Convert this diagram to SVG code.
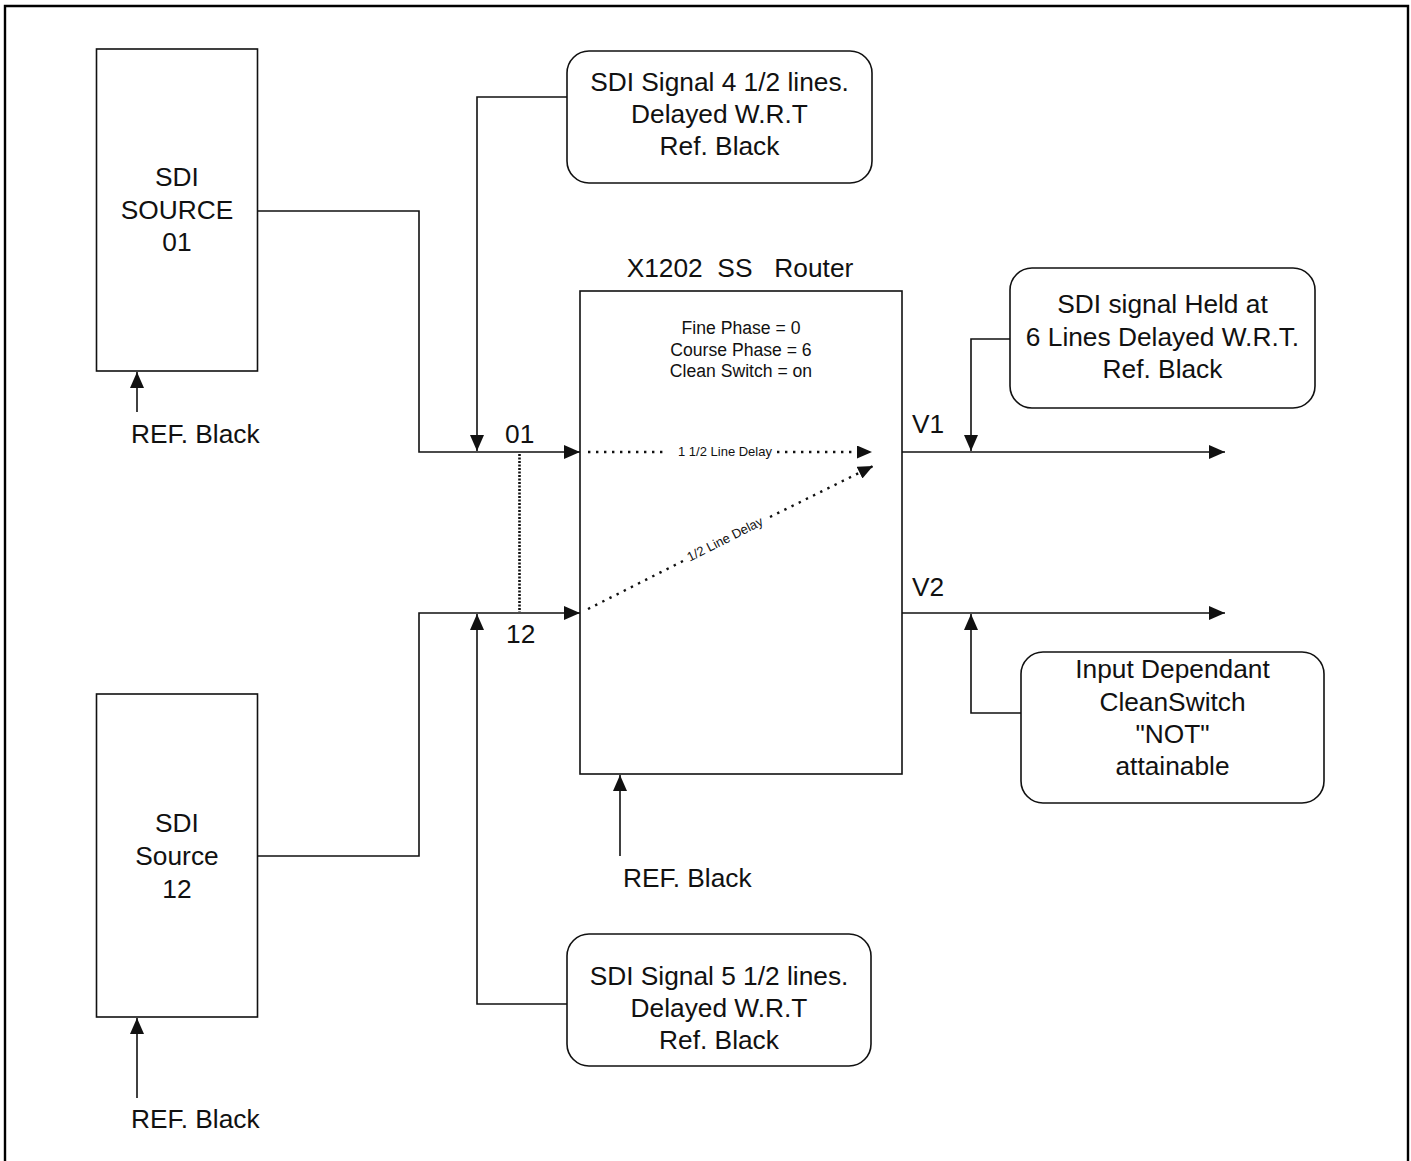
<svg xmlns="http://www.w3.org/2000/svg" width="1411" height="1161" viewBox="0 0 1411 1161">
<style>
text{font-family:"Liberation Sans",Arial,sans-serif;fill:#111;}
.big{font-size:26.3px;}
.mid{font-size:17.6px;}
.sm{font-size:13px;}
.c{text-anchor:middle;}
.box{fill:#fff;stroke:#111;stroke-width:1.6;}
.ln{fill:none;stroke:#111;stroke-width:1.6;}
.dot{fill:none;stroke:#111;stroke-width:2.4;stroke-dasharray:2.4 5.6;}
.vdot{fill:none;stroke:#111;stroke-width:2.6;stroke-dasharray:2 1.5;}
</style>
<defs>
<marker id="ah" markerUnits="userSpaceOnUse" markerWidth="16" markerHeight="14" refX="16" refY="7" orient="auto"><path d="M0,0 L16,7 L0,14 z" fill="#111"/></marker>
<marker id="ahs" markerUnits="userSpaceOnUse" markerWidth="15" markerHeight="13" refX="15" refY="6.5" orient="auto"><path d="M0,0 L15,6.5 L0,13 z" fill="#111"/></marker>
</defs>
<rect width="1411" height="1161" fill="#fff"/>
<path d="M5,1161 V6 H1408 V1161" fill="none" stroke="#000" stroke-width="2.4"/>

<g id="sdi-source-01">
<rect class="box" x="96.5" y="49" width="161" height="322"/>
<text class="big c" x="177" y="186">SDI</text>
<text class="big c" x="177" y="219">SOURCE</text>
<text class="big c" x="177" y="251">01</text>
</g>
<g id="ref-black-1"><text class="big" x="131" y="443">REF. Black</text></g>

<g id="sdi-source-12">
<rect class="box" x="96.5" y="694" width="161" height="323"/>
<text class="big c" x="177" y="832">SDI</text>
<text class="big c" x="177" y="865">Source</text>
<text class="big c" x="177" y="898">12</text>
</g>
<g id="ref-black-2"><text class="big" x="131" y="1128">REF. Black</text></g>

<g id="router">
<text class="big c" x="740" y="277" xml:space="preserve">X1202  SS   Router</text>
<rect class="box" x="580" y="291" width="322" height="483"/>
<text class="mid c" x="741" y="334">Fine Phase = 0</text>
<text class="mid c" x="741" y="355.5">Course Phase = 6</text>
<text class="mid c" x="741" y="377">Clean Switch = on</text>
<text class="sm c" x="725" y="456">1 1/2 Line Delay</text>
<text class="sm c" transform="translate(727,543) rotate(-26.7)" x="0" y="0">1/2 Line Delay</text>
</g>
<g id="ref-black-3"><text class="big" x="623" y="887">REF. Black</text></g>

<g id="labels">
<text class="big" x="505" y="443">01</text>
<text class="big" x="506" y="643">12</text>
<text class="big" x="912" y="433">V1</text>
<text class="big" x="912" y="596">V2</text>
</g>

<g id="callout-4-half">
<rect class="box" x="567" y="51" width="305" height="132" rx="22"/>
<text class="big c" x="719.5" y="91">SDI Signal 4 1/2 lines.</text>
<text class="big c" x="719.5" y="123">Delayed W.R.T</text>
<text class="big c" x="719.5" y="155">Ref. Black</text>
</g>

<g id="callout-5-half">
<rect class="box" x="567" y="934" width="304" height="132" rx="22"/>
<text class="big c" x="719" y="985">SDI Signal 5 1/2 lines.</text>
<text class="big c" x="719" y="1017">Delayed W.R.T</text>
<text class="big c" x="719" y="1049">Ref. Black</text>
</g>

<g id="callout-held">
<rect class="box" x="1010" y="268" width="305" height="140" rx="22"/>
<text class="big c" x="1162.5" y="313">SDI signal Held at</text>
<text class="big c" x="1162.5" y="346">6 Lines Delayed W.R.T.</text>
<text class="big c" x="1162.5" y="378">Ref. Black</text>
</g>

<g id="callout-input">
<rect class="box" x="1021" y="652" width="303" height="151" rx="22"/>
<text class="big c" x="1172.5" y="678">Input Dependant</text>
<text class="big c" x="1172.5" y="711">CleanSwitch</text>
<text class="big c" x="1172.5" y="743">"NOT"</text>
<text class="big c" x="1172.5" y="775">attainable</text>
</g>

<g id="connectors">
<path class="ln" d="M258,211 H419 V452 H580" marker-end="url(#ah)"/>
<path class="ln" d="M258,856 H419 V613 H580" marker-end="url(#ah)"/>
<path class="ln" d="M137,412 V372" marker-end="url(#ah)"/>
<path class="ln" d="M137,1098 V1018" marker-end="url(#ah)"/>
<path class="ln" d="M620,856 V775" marker-end="url(#ah)"/>
<path class="ln" d="M567,97 H477 V451" marker-end="url(#ah)"/>
<path class="ln" d="M567,1004 H477 V614" marker-end="url(#ah)"/>
<path class="ln" d="M1010,339 H971 V451" marker-end="url(#ah)"/>
<path class="ln" d="M1021,713 H971 V614" marker-end="url(#ah)"/>
<path class="ln" d="M902,452 H1225" marker-end="url(#ah)"/>
<path class="ln" d="M902,613 H1225" marker-end="url(#ah)"/>
<path class="vdot" d="M519.5,454 V612"/>
<path class="dot" d="M588,452 H664"/>
<path class="dot" d="M777,452 H872" marker-end="url(#ahs)"/>
<path class="dot" d="M588,609 L683,561"/>
<path class="dot" d="M770,517 L873,466" marker-end="url(#ahs)"/>
</g>
</svg>
